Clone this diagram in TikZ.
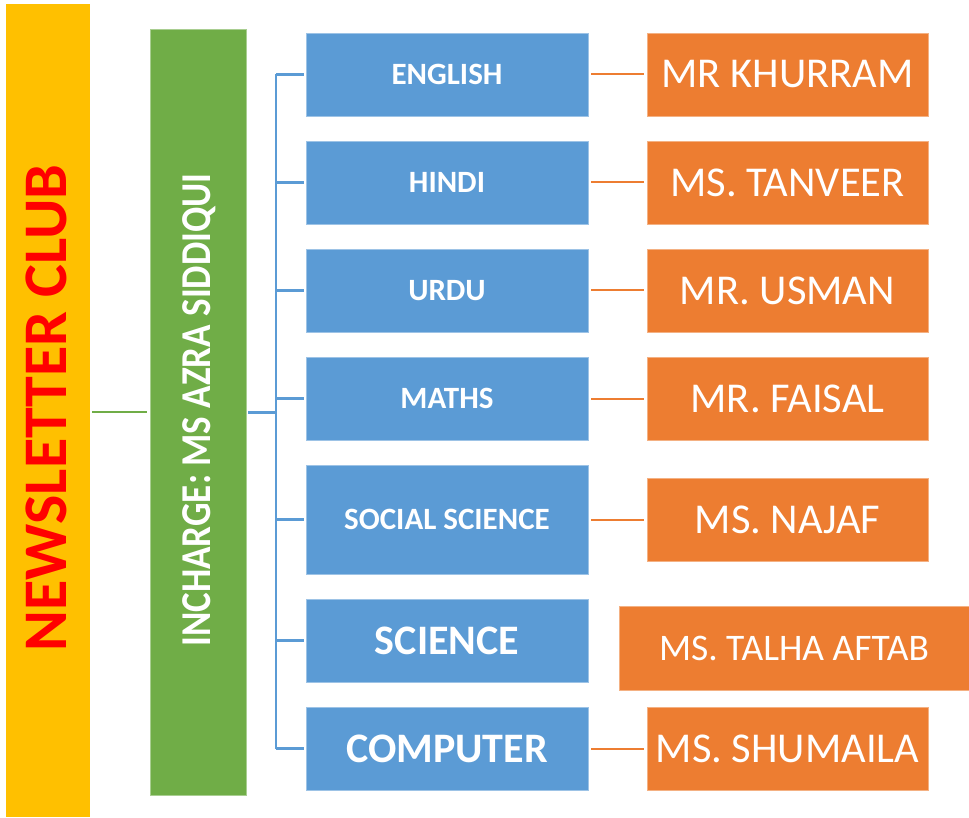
\documentclass[tikz,border=0pt]{standalone}
\usepackage{fontspec}
\setmainfont{Carlito}
\definecolor{cyel}{HTML}{FFC000}
\definecolor{cgrn}{HTML}{70AD47}
\definecolor{cblu}{HTML}{5B9BD5}
\definecolor{cora}{HTML}{ED7D31}
\definecolor{cred}{HTML}{FF0000}
\tikzset{
  subj/.style={fill=cblu, draw=cblu!60!white, line width=0.8pt, minimum width=282pt, minimum height=83pt, inner sep=0pt, text=white, font=\bfseries\fontsize{31}{31}\selectfont},
  bigsubj/.style={subj, font=\bfseries\fontsize{42}{42}\selectfont},
  teach/.style={fill=cora, draw=cora!60!white, line width=0.8pt, minimum width=281pt, minimum height=83pt, inner sep=0pt, text=white, font=\fontsize{42.5}{42.5}\selectfont},
  bline/.style={draw=cblu, line width=2.5pt},
  oline/.style={draw=cora, line width=2pt},
}
\begin{document}
\begin{tikzpicture}[x=1pt,y=-1pt]
\useasboundingbox (0,0) rectangle (969,818);
% left bars
\node[fill=cyel, minimum width=84pt, minimum height=813pt, inner sep=0pt] (yel) at (48,410.5) {};
\node[rotate=90, text=cred, font=\bfseries\fontsize{62}{62}\selectfont] (club) at (46,408) {NEWSLETTER CLUB};
\node[fill=cgrn, draw=cgrn!60!white, line width=0.8pt, minimum width=96pt, minimum height=766pt, inner sep=0pt] (grn) at (198,412) {};
\node[rotate=90, text=white, font=\bfseries\fontsize{37}{37}\selectfont] (inch) at (199,410) {\scalebox{1}[1.15]{INCHARGE: MS AZRA SIDDIQUI}};
% subjects
\node[subj] (eng) at (447,74.5) {ENGLISH};
\node[subj] (hin) at (447,182.5) {HINDI};
\node[subj] (urd) at (447,290.5) {URDU};
\node[subj] (mat) at (447,398.5) {MATHS};
\node[subj, minimum height=109pt] (sst) at (447,519.5) {SOCIAL SCIENCE};
\node[bigsubj] (sci) at (447,640.5) {SCIENCE};
\node[bigsubj] (cmp) at (447,748.5) {COMPUTER};
% teachers
\node[teach] (t1) at (787.5,74.5) {MR KHURRAM};
\node[teach] (t2) at (787.5,182.5) {MS. TANVEER};
\node[teach] (t3) at (787.5,290.5) {MR. USMAN};
\node[teach] (t4) at (787.5,398.5) {MR. FAISAL};
\node[teach] (t5) at (787.5,519.5) {MS. NAJAF};
\node[teach, minimum width=350pt, minimum height=84pt, font=\fontsize{37.5}{37.5}\selectfont] (t6) at (794,648) {MS. TALHA AFTAB};
\node[teach] (t7) at (787.5,748.5) {MS. SHUMAILA};
% connectors
\draw[draw=cgrn, line width=2pt] ([xshift=2pt]yel.east |- grn.center) -- ([xshift=-3pt]grn.west);
\coordinate (bx) at (276,412);
\draw[draw=cblu, line width=3pt] ([xshift=2pt]grn.east) -- (bx);
\draw[bline] (bx |- eng.west) -- (bx |- cmp.west);
\foreach \n in {eng,hin,urd,mat,sst,sci,cmp}{
  \draw[bline] (bx |- \n.west) -- ([xshift=-2pt]\n.west);
}
\foreach \a/\b in {eng/t1,hin/t2,urd/t3,mat/t4,sst/t5,cmp/t7}{
  \draw[oline] ([xshift=3pt]\a.east) -- ([xshift=-3pt]\b.west);
}
\end{tikzpicture}
\end{document}
